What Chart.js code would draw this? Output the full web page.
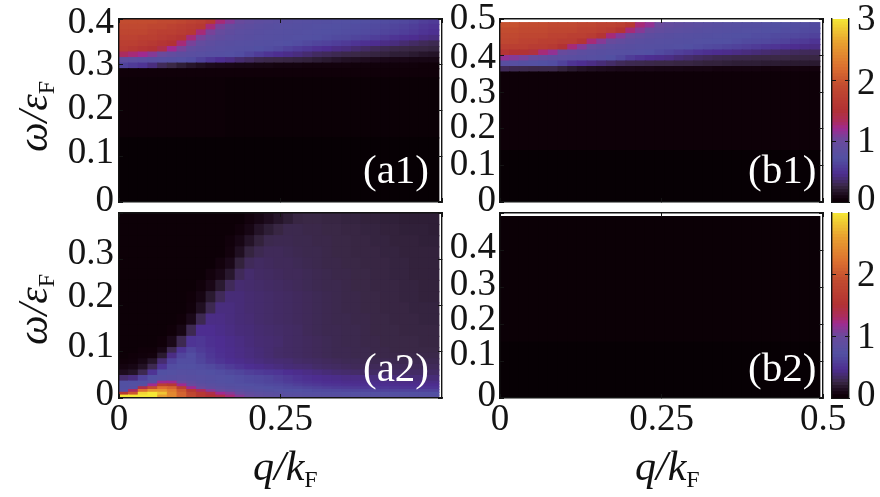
<!DOCTYPE html>
<html>
<head>
<meta charset="utf-8">
<script src="https://cdn.jsdelivr.net/npm/chart.js@4"></script>
<style>
  body { margin: 0; background: #fff; }
  #fig { position: relative; width: 880px; height: 497px; overflow: hidden; font-family: "Liberation Serif", serif; color: #111; }
  #fig canvas { position: absolute; left: 0; top: 0; }
  .ylab, .xlab { position: absolute; font-style: italic; font-size: 42px; line-height: 42px; white-space: nowrap; }
  .ylab { transform-origin: 0 0; transform: rotate(-90deg); }
  .ylab span, .xlab span { font-style: normal; font-size: 24px; position: relative; top: 7px; }
  .tag { position: absolute; color: #fff; font-size: 41px; line-height: 41px; }
</style>
</head>
<body>
<div id="fig">
  <canvas id="a1" width="880" height="497"></canvas>
  <canvas id="a2" width="880" height="497"></canvas>
  <canvas id="b1" width="880" height="497"></canvas>
  <canvas id="b2" width="880" height="497"></canvas>
  <canvas id="cb1" width="880" height="497"></canvas>
  <canvas id="cb2" width="880" height="497"></canvas>
  <div class="ylab" style="left:12px;top:152px">ω/ε<span>F</span></div>
  <div class="ylab" style="left:12px;top:345px">ω/ε<span>F</span></div>
  <div class="xlab" style="left:253px;top:445px">q/k<span>F</span></div>
  <div class="xlab" style="left:635px;top:445px">q/k<span>F</span></div>
  <div class="tag" style="left:363px;top:149px">(a1)</div>
  <div class="tag" style="left:748px;top:149px">(b1)</div>
  <div class="tag" style="left:363px;top:347px">(a2)</div>
  <div class="tag" style="left:748px;top:347px">(b2)</div>
</div>
<script>
// column centres in q/kF, shared by all four panels
const qCentres = [.0075,.0225,.0375,.0525,.0675,.0825,.0975,.1125,.1275,.1425,.1575,
  .1725,.1875,.2025,.2175,.2325,.2475,.2625,.2775,.2925,.3075,.3225,
  .3375,.3525,.3675,.3825,.3975,.4125,.4275,.4425,.4575,.4725,.4875];

// panel a1: rows bottom to top, heights in omega
const a1Heights = [.14,.131,.0203,.0121,.0121,.0121,.0121,.0121,.0121,.0121,.0121,.0121];
const a1Cells = [
  [.004,.004,.004,.004,.004,.004,.004,.004,.004,.004,.004,.004,.004,.004,.004,.004,.004,.004,.004,.004,.004,.004,.004,.004,.004,.004,.004,.004,.004,.004,.004,.004,.004],
  [.02,.02,.02,.02,.02,.02,.02,.02,.02,.02,.02,.015,.015,.015,.015,.015,.015,.015,.015,.015,.015,.015,.015,.015,.015,.015,.015,.015,.015,.015,.015,.015,.015],
  [.03,.03,.03,.03,.03,.03,.03,.03,.03,.03,.03,.03,.03,.03,.03,.03,.03,.03,.03,.03,.03,.03,.03,.03,.03,.03,.03,.03,.03,.03,.03,.03,.03],
  [.6,.55,.5,.4,.3,.25,.2,.16,.13,.11,.1,.09,.08,.08,.07,.07,.06,.06,.06,.05,.05,.05,.05,.05,.04,.04,.04,.04,.04,.04,.04,.03,.03],
  [.85,.82,.8,.78,.76,.74,.72,.68,.6,.52,.46,.42,.36,.32,.28,.26,.25,.24,.23,.22,.2,.18,.16,.14,.13,.12,.11,.1,.09,.09,.08,.08,.08],
  [1.3,1.25,1.2,1.1,1.0,.9,.84,.8,.77,.75,.74,.72,.68,.62,.56,.5,.46,.43,.4,.36,.32,.3,.28,.26,.25,.24,.23,.22,.2,.2,.18,.16,.15],
  [1.65,1.6,1.55,1.5,1.4,1.2,1.05,.9,.84,.8,.77,.75,.74,.73,.7,.68,.65,.6,.56,.52,.48,.45,.42,.4,.36,.33,.3,.28,.26,.25,.24,.24,.23],
  [1.7,1.7,1.65,1.6,1.55,1.5,1.25,1.05,.92,.85,.8,.78,.76,.75,.74,.73,.72,.7,.68,.65,.62,.6,.57,.54,.5,.47,.45,.42,.4,.36,.33,.3,.28],
  [1.75,1.75,1.7,1.7,1.65,1.6,1.55,1.25,1.05,.95,.88,.82,.8,.78,.76,.75,.74,.73,.72,.71,.7,.68,.66,.65,.62,.6,.57,.54,.5,.47,.45,.42,.4],
  [1.8,1.8,1.8,1.75,1.7,1.7,1.65,1.6,1.25,1.05,.95,.88,.82,.8,.78,.76,.75,.74,.73,.72,.71,.7,.69,.68,.67,.66,.64,.62,.6,.57,.54,.5,.47],
  [1.85,1.85,1.85,1.8,1.8,1.75,1.7,1.65,1.6,1.25,1.05,.95,.88,.84,.8,.78,.76,.75,.74,.73,.72,.71,.7,.69,.68,.67,.66,.64,.62,.6,.57,.53,.5],
  [1.9,1.9,1.9,1.9,1.85,1.85,1.8,1.75,1.7,1.6,1.25,1.1,.98,.9,.85,.82,.8,.78,.76,.75,.74,.73,.72,.71,.7,.69,.68,.67,.66,.64,.62,.58,.55]
];

// panel a2: rows bottom to top, thin rows under the hot spot
const a2Heights = [.00605,.00605,.00605,.00605,.00605,.00605,.0121,.0121,.0121,.0121,.0121,.0121,.0242,.0242,.0242,.0242,.0242,.0242,.0242,.0242,.0242,.0242,.0242,.0242];
const a2Cells = [
  [3,3,3,3,2.6,2.4,2.1,1.85,1.6,1.5,1.4,1.25,1.1,.98,.9,.85,.82,.8,.8,.78,.78,.78,.78,.76,.76,.76,.75,.75,.75,.75,.74,.74,.74],
  [1.6,2,2.9,3,2.8,2.4,2.1,1.8,1.6,1.4,1.2,1.1,.95,.88,.82,.8,.78,.76,.75,.74,.74,.73,.73,.72,.72,.72,.71,.71,.7,.7,.7,.7,.7],
  [.75,1.3,2.2,2.5,2.5,2.3,2,1.6,1.3,1.1,.95,.88,.82,.78,.75,.73,.72,.7,.7,.68,.66,.65,.64,.63,.62,.62,.61,.6,.6,.6,.6,.6,.6],
  [.7,.75,1.4,1.9,2.2,2.1,1.7,1.2,1,.88,.82,.78,.75,.74,.72,.7,.68,.66,.64,.62,.6,.58,.56,.55,.54,.53,.52,.52,.51,.5,.5,.5,.5],
  [.7,.72,.75,1.2,1.7,1.6,1.2,.95,.85,.8,.76,.74,.72,.7,.68,.66,.64,.62,.58,.55,.53,.5,.49,.48,.47,.47,.46,.46,.45,.45,.45,.45,.45],
  [.7,.7,.7,.75,1.2,1.2,.95,.85,.78,.74,.72,.7,.68,.66,.64,.62,.6,.56,.53,.5,.48,.46,.45,.44,.44,.43,.43,.43,.42,.42,.42,.42,.42],
  [.35,.4,.6,.7,.75,.78,.8,.78,.76,.74,.72,.7,.68,.66,.64,.62,.58,.54,.5,.47,.45,.44,.43,.42,.42,.41,.4,.4,.39,.39,.38,.38,.38],
  [.12,.15,.28,.5,.7,.72,.75,.74,.72,.7,.68,.65,.62,.58,.55,.52,.5,.46,.44,.42,.4,.38,.36,.35,.34,.33,.33,.33,.33,.33,.33,.33,.33],
  [.06,.08,.14,.28,.5,.68,.7,.7,.68,.65,.6,.55,.5,.46,.44,.42,.4,.38,.37,.36,.34,.33,.32,.31,.3,.3,.3,.3,.3,.3,.3,.3,.3],
  [.03,.04,.08,.16,.36,.6,.68,.68,.62,.55,.5,.46,.44,.42,.4,.38,.37,.36,.34,.33,.32,.31,.3,.29,.29,.28,.28,.28,.28,.28,.28,.28,.28],
  [.02,.03,.04,.05,.18,.42,.62,.68,.6,.52,.47,.44,.42,.4,.38,.36,.34,.33,.32,.31,.3,.29,.28,.28,.27,.27,.26,.26,.26,.26,.26,.26,.26],
  [.02,.02,.03,.03,.08,.28,.5,.62,.55,.5,.46,.44,.42,.4,.38,.36,.34,.33,.32,.31,.3,.29,.28,.28,.27,.27,.26,.26,.25,.25,.25,.25,.25],
  [.02,.02,.02,.02,.03,.1,.28,.5,.52,.47,.45,.43,.41,.39,.37,.36,.35,.33,.32,.31,.3,.29,.28,.27,.27,.26,.26,.25,.25,.25,.25,.24,.24],
  [.02,.02,.02,.02,.02,.03,.08,.28,.45,.45,.43,.41,.39,.38,.36,.35,.34,.33,.32,.3,.29,.28,.28,.27,.27,.26,.25,.25,.25,.24,.24,.24,.24],
  [.02,.02,.02,.02,.02,.02,.03,.1,.28,.42,.42,.4,.38,.37,.35,.34,.33,.32,.31,.3,.29,.28,.27,.27,.26,.26,.25,.25,.24,.24,.24,.23,.23],
  [.02,.02,.02,.02,.02,.02,.02,.04,.13,.28,.4,.4,.38,.36,.35,.34,.33,.32,.31,.3,.29,.28,.27,.26,.26,.25,.25,.24,.24,.24,.23,.23,.23],
  [.02,.02,.02,.02,.02,.02,.02,.03,.07,.18,.3,.38,.38,.36,.35,.34,.33,.32,.31,.3,.29,.28,.27,.26,.26,.25,.25,.24,.24,.23,.23,.22,.22],
  [.02,.02,.02,.02,.02,.02,.02,.02,.04,.09,.18,.3,.36,.35,.34,.33,.32,.31,.3,.29,.28,.27,.27,.26,.25,.25,.24,.24,.24,.23,.23,.22,.22],
  [.02,.02,.02,.02,.02,.02,.02,.02,.02,.05,.09,.17,.3,.35,.33,.32,.31,.3,.3,.29,.28,.27,.26,.26,.25,.25,.24,.24,.23,.23,.22,.22,.22],
  [.02,.02,.02,.02,.02,.02,.02,.02,.02,.02,.05,.1,.22,.3,.32,.31,.3,.3,.29,.28,.27,.26,.26,.25,.25,.24,.24,.24,.23,.23,.22,.22,.22],
  [.02,.02,.02,.02,.02,.02,.02,.02,.02,.02,.02,.05,.13,.23,.28,.3,.3,.29,.28,.27,.27,.26,.25,.25,.24,.24,.24,.23,.23,.22,.22,.22,.22],
  [.02,.02,.02,.02,.02,.02,.02,.02,.02,.02,.02,.04,.08,.15,.22,.27,.28,.28,.27,.27,.26,.26,.25,.25,.24,.24,.23,.23,.22,.22,.22,.21,.21],
  [.02,.02,.02,.02,.02,.02,.02,.02,.02,.02,.02,.02,.04,.08,.15,.2,.24,.27,.27,.26,.26,.25,.25,.24,.24,.23,.23,.22,.22,.21,.21,.21,.2],
  [.02,.02,.02,.02,.02,.02,.02,.02,.02,.02,.02,.02,.02,.05,.08,.12,.16,.2,.24,.25,.25,.24,.24,.23,.23,.22,.22,.21,.21,.2,.2,.2,.2]
];

// panel b1: rows bottom to top
const b1Heights = [.14,.215,.015,.015,.015,.015,.015,.015,.015,.015,.015];
const b1Cells = [
  [.004,.004,.004,.004,.004,.004,.004,.004,.004,.004,.004,.004,.004,.004,.004,.004,.004,.004,.004,.004,.004,.004,.004,.004,.004,.004,.004,.004,.004,.004,.004,.004,.004],
  [.025,.025,.025,.025,.025,.025,.025,.025,.025,.025,.025,.025,.025,.025,.025,.025,.025,.025,.025,.025,.025,.025,.025,.025,.025,.025,.025,.025,.025,.025,.025,.025,.025],
  [.3,.28,.27,.26,.26,.26,.22,.18,.15,.13,.12,.11,.1,.1,.09,.09,.08,.08,.08,.07,.07,.07,.06,.06,.06,.06,.06,.05,.05,.05,.05,.05,.05],
  [.78,.76,.74,.72,.7,.68,.6,.5,.46,.42,.38,.34,.3,.28,.27,.26,.25,.25,.24,.24,.23,.22,.22,.21,.2,.2,.2,.19,.19,.18,.18,.18,.18],
  [1.15,1.1,1.05,.95,.9,.85,.82,.8,.78,.76,.74,.7,.64,.56,.5,.46,.44,.42,.38,.35,.32,.3,.28,.27,.26,.26,.25,.25,.25,.25,.24,.24,.24],
  [1.55,1.5,1.5,1.45,1.25,1.15,.98,.9,.84,.8,.78,.76,.75,.74,.72,.7,.66,.62,.58,.54,.5,.47,.45,.44,.42,.4,.38,.36,.34,.33,.31,.3,.3],
  [1.7,1.7,1.7,1.65,1.65,1.6,1.5,1.25,1.1,.95,.88,.82,.8,.78,.76,.75,.74,.73,.72,.7,.68,.66,.64,.62,.6,.58,.55,.52,.5,.47,.45,.43,.42],
  [1.8,1.8,1.75,1.75,1.7,1.7,1.65,1.65,1.55,1.25,1.1,.98,.9,.84,.8,.78,.76,.75,.74,.73,.72,.71,.7,.7,.68,.66,.65,.64,.62,.6,.56,.54,.5],
  [1.85,1.85,1.8,1.8,1.8,1.75,1.75,1.7,1.7,1.65,1.55,1.25,1.1,.98,.9,.84,.8,.78,.76,.75,.74,.73,.72,.71,.7,.7,.68,.68,.66,.65,.64,.62,.6],
  [1.9,1.9,1.85,1.85,1.85,1.8,1.8,1.8,1.75,1.75,1.7,1.65,1.55,1.25,1.1,.98,.9,.85,.82,.8,.78,.76,.75,.74,.73,.72,.72,.7,.7,.68,.68,.66,.65],
  [1.95,1.95,1.9,1.9,1.9,1.85,1.85,1.85,1.8,1.8,1.75,1.75,1.7,1.6,1.25,1.15,1,.92,.88,.85,.82,.8,.78,.76,.75,.74,.74,.72,.7,.7,.68,.68,.66]
];

// panel b2: nearly empty
const b2Heights = [.15,.34];
const b2Cells = [
  [.004,.004,.004,.004,.004,.004,.004,.004,.004,.004,.004,.004,.004,.004,.004,.004,.004,.004,.004,.004,.004,.004,.004,.004,.004,.004,.004,.004,.004,.004,.004,.004,.004],
  [.015,.015,.015,.015,.015,.015,.015,.015,.015,.015,.015,.015,.015,.015,.015,.015,.015,.015,.015,.015,.015,.015,.015,.015,.015,.015,.015,.015,.015,.015,.015,.015,.015]
];

// colour bar levels
const barLevels = [0,.05,.1,.15,.2,.25,.3,.35,.4,.45,.5,.55,.6,.65,.7,.75,.8,.85,.9,.95,1,1.05,1.1,1.15,1.2,1.25,1.3,1.35,1.4,1.45,1.5,
  1.55,1.6,1.65,1.7,1.75,1.8,1.85,1.9,1.95,2,2.05,2.1,2.15,2.2,2.25,2.3,2.35,2.4,2.45,2.5,2.55,2.6,2.65,2.7,2.75,2.8,2.85,2.9,2.95];

// tick positions and labels
const qTicks = [0, .25, .5];
const a1OmegaTicks = [0, .1, .2, .3, .4];
const b1OmegaTicks = [0, .1, .2, .3, .4, .5];
const barTicks = [1, 2];
const a1LabelTexts = ['0', '0.1', '0.2', '0.3', '0.4'];
const a2LabelTexts = ['0', '0.1', '0.2', '0.3'];
const b1LabelTexts = ['0', '0.1', '0.2', '0.3', '0.4', '0.5'];
const b2LabelTexts = ['0', '0.1', '0.2', '0.3', '0.4'];
// the printed labels sit a little off their ticks in the original
const a1LabelAt = [.0016, .1065, .2027, .2988, .3906];
const a2LabelAt = [.0058, .1102, .2177, .3113];
const b1LabelAt = [.0013, .1011, .2002, .2959, .3934, .4985];
const b2LabelAt = [.0054, .1153, .2108, .3054, .4035];
const bar1LabelAt = [.02, .98, 1.93, 2.98];
const bar2LabelAt = [.02, .97, 1.98];

const colourStops = [
  [0, [6, 0, 3]], [.03, [16, 0, 9]], [.1, [26, 8, 24]], [.2, [46, 30, 54]], [.25, [58, 40, 70]], [.35, [69, 44, 108]],
  [.45, [77, 45, 144]], [.7, [82, 80, 162]], [1, [106, 74, 156]], [1.2, [160, 42, 144]], [1.3, [171, 44, 96]],
  [1.5, [178, 50, 52]], [1.9, [194, 76, 48]], [2.2, [220, 112, 48]], [2.6, [232, 160, 48]], [3, [245, 232, 54]]
];

function heatColour(v) {
  for (let i = 1; i < colourStops.length; i++) {
    const [v1, c1] = colourStops[i];
    if (v <= v1) {
      const [v0, c0] = colourStops[i - 1];
      const t = (v - v0) / (v1 - v0);
      const c = c0.map((ch, k) => Math.round(ch + (c1[k] - ch) * t));
      return `rgb(${c[0]},${c[1]},${c[2]})`;
    }
  }
  return 'rgb(245,232,54)';
}

const FONT = { family: '"Liberation Serif", serif', size: 37 };
const INK = '#141414';

// scale boxes take no room; the chart area is fixed by the layout padding alone
function fixSize(scale) {
  if (scale.isHorizontal()) scale.height = 0; else scale.width = 0;
  scale.paddingTop = scale.paddingBottom = scale.paddingLeft = scale.paddingRight = 0;
}

// scales clip their labels to their own box, so open the boxes up once layout is done
const openLabelBoxes = {
  id: 'openLabelBoxes',
  afterLayout(chart) {
    Object.values(chart.scales).forEach(s => {
      if (s.position === 'left') s.left = 0;
      if (s.position === 'right') s.right = 880;
      if (s.position === 'bottom') s.bottom = 497;
    });
  }
};

// frame side with small inward ticks, optionally labelled
function tickAxis(position, min, max, ticks, labelled) {
  return {
    type: 'linear', position, min, max, offset: false,
    afterBuildTicks: s => { s.ticks = ticks.map(value => ({ value })); },
    afterFit: fixSize,
    border: { display: true, color: INK, width: 1.4, z: 1 },
    grid: { drawOnChartArea: false, drawTicks: true, tickLength: -4, color: INK, lineWidth: 1, z: 1, offset: false },
    ticks: { display: !!labelled, autoSkip: false, maxRotation: 0, font: FONT, color: INK, padding: 12, callback: v => String(v) }
  };
}

// label-only axis, for labels printed off their ticks
function labelAxis(position, min, max, at, texts, gap) {
  return {
    type: 'linear', position, min, max,
    afterBuildTicks: s => { s.ticks = at.map(value => ({ value })); },
    afterFit: fixSize,
    border: { display: false },
    grid: { display: false, drawTicks: false },
    ticks: { autoSkip: false, maxRotation: 0, font: FONT, color: INK, padding: gap, callback: (v, i) => texts[i] }
  };
}

function padding(box) {
  return { left: box.left, top: box.top, right: 880 - box.right, bottom: 497 - box.bottom };
}

const baseOptions = { responsive: false, animation: false, events: [], plugins: { legend: { display: false }, tooltip: { enabled: false } } };

function heatPanel(id, box, omegaMax, heights, cells, labelAt, labelTexts, labelGap, xLabelled) {
  const datasets = cells.map((row, r) => ({
    data: qCentres.map((x, c) => ({ x, y: heights[r] })),
    backgroundColor: row.map(heatColour),
    barPercentage: 1, categoryPercentage: 1, borderWidth: 0, inflateAmount: .6
  }));
  const x = tickAxis('bottom', 0, .5, xLabelled || qTicks, !!xLabelled);
  x.ticks.padding = 4;
  const omegaTicks = omegaMax > .45 ? b1OmegaTicks : a1OmegaTicks;
  const y = tickAxis('left', 0, omegaMax, omegaTicks, false);
  y.stacked = true;
  x.stacked = true;
  new Chart(document.getElementById(id), {
    type: 'bar',
    data: { datasets },
    plugins: [openLabelBoxes],
    options: {
      ...baseOptions,
      layout: { padding: padding(box) },
      scales: {
        x, y,
        xTop: { ...tickAxis('top', 0, .5, qTicks, false), axis: 'x' },
        yRight: { ...tickAxis('right', 0, omegaMax, omegaTicks, false), axis: 'y' },
        yLabels: { ...labelAxis('left', 0, omegaMax, labelAt, labelTexts, labelGap), axis: 'y' }
      }
    }
  });
}

function colourBar(id, box, labelAt, labelTexts) {
  const datasets = barLevels.map(v => ({
    data: [.05],
    backgroundColor: heatColour(v + .025),
    barPercentage: 1, categoryPercentage: 1, borderWidth: 0, inflateAmount: .6
  }));
  const y = tickAxis('left', 0, 3, barTicks, false);
  y.stacked = true;
  new Chart(document.getElementById(id), {
    type: 'bar',
    data: { labels: [''], datasets },
    plugins: [openLabelBoxes],
    options: {
      ...baseOptions,
      layout: { padding: padding(box) },
      scales: {
        x: {
          type: 'category', stacked: true, offset: true, afterFit: fixSize,
          border: { display: true, color: INK, width: 1, z: 1 },
          grid: { display: false }, ticks: { display: false }
        },
        y,
        yRight: { ...tickAxis('right', 0, 3, barTicks, false), axis: 'y' },
        yLabels: { ...labelAxis('right', 0, 3, labelAt, labelTexts, 8), axis: 'y' }
      }
    }
  });
}

heatPanel('a1', { left: 119, top: 19, right: 442, bottom: 202 }, .4, a1Heights, a1Cells, a1LabelAt, a1LabelTexts, 5, null);
heatPanel('a2', { left: 119, top: 213, right: 442, bottom: 398 }, .4, a2Heights, a2Cells, a2LabelAt, a2LabelTexts, 5, [0, .25]);
heatPanel('b1', { left: 500, top: 19, right: 823, bottom: 202 }, .5, b1Heights, b1Cells, b1LabelAt, b1LabelTexts, 4, null);
heatPanel('b2', { left: 500, top: 213, right: 823, bottom: 398 }, .5, b2Heights, b2Cells, b2LabelAt, b2LabelTexts, 4, qTicks);
colourBar('cb1', { left: 832, top: 19, right: 849, bottom: 202 }, bar1LabelAt, ['0', '1', '2', '3']);
colourBar('cb2', { left: 832, top: 213, right: 849, bottom: 398 }, bar2LabelAt, ['0', '1', '2']);
</script>
</body>
</html>
